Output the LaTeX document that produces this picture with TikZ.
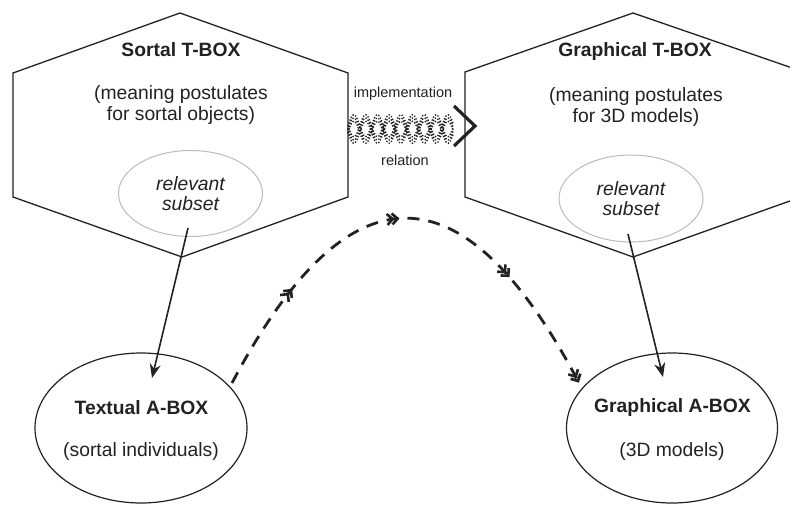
\documentclass[tikz,border=0pt]{standalone}
\usepackage{fontspec}
\setmainfont{Liberation Sans}
\usetikzlibrary{shapes.geometric,arrows.meta,decorations.markings}
\definecolor{ink}{HTML}{222222}
\definecolor{soft}{HTML}{BBBBBB}
\begin{document}
\begin{tikzpicture}[x=1pt,y=-1pt,
  hexline/.style={draw=ink,line width=1.3pt,line join=miter},
  bigtxt/.style={text=ink,align=center,inner sep=0pt,font=\fontsize{19.3}{21}\selectfont},
  smalltxt/.style={text=ink,align=center,inner sep=0pt,font=\fontsize{14.5}{17}\selectfont},
  subell/.style={ellipse,draw=soft,line width=1pt,inner sep=0pt,text=ink,align=center,font=\fontsize{19.3}{20}\selectfont\itshape},
  aboxell/.style={ellipse,draw=ink,line width=1.2pt,inner sep=0pt},
  solidarrow/.style={draw=ink,line width=1.6pt,-{Stealth[length=14pt,width=11pt]}},
  chevmark/.code={\draw[solid,draw=ink,line width=2.6pt,line cap=butt,line join=miter]
      (-10pt,5.5pt) -- (-4.5pt,0pt) -- (-10pt,-5.5pt)
      (-5pt,5.5pt) -- (0.5pt,0pt) -- (-5pt,-5.5pt);},
  dashcurve/.style={draw=ink,line width=2.8pt,dash pattern=on 12pt off 9pt,
    postaction={decorate},
    decoration={markings,
      mark=at position 0.22 with {\tikzset{chevmark}},
      mark=at position 0.485 with {\tikzset{chevmark}},
      mark=at position 0.745 with {\tikzset{chevmark}},
      mark=at position 0.999 with {\tikzset{chevmark}}}},
  wave/.style={draw=ink,line width=1.9pt,line cap=round,dash pattern=on 0pt off 3pt},
  chev/.style={draw=ink,line width=3.2pt,line join=miter}
]
\clip (0,0) rectangle (790,504);
\fill[white] (0,0) rectangle (790,504);

% T-BOX hexagons
\draw[hexline] (180,13) -- (348,73) -- (348,197) -- (182,257) -- (13,197) -- (13,73) -- cycle;
\draw[hexline] (633,13) -- (801,71) -- (801,197) -- (633,257) -- (465,197) -- (465,72) -- cycle;

\node[bigtxt,font=\fontsize{19.3}{21}\selectfont\bfseries] (st1) at (181,50) {Sortal T-BOX};
\node[bigtxt] (st2) at (181,105) {(meaning postulates\\for sortal objects)};
\node[bigtxt,font=\fontsize{19.3}{21}\selectfont\bfseries] (gt1) at (635,52) {Graphical T-BOX};
\node[bigtxt] (gt2) at (636,107) {(meaning postulates\\for 3D models)};

% relevant subsets
\node[subell,minimum width=144pt,minimum height=86pt] (sub1) at (190.5,193.5) {relevant\\subset};
\node[subell,minimum width=144pt,minimum height=87pt] (sub2) at (631,198.5) {relevant\\subset};

% A-BOX ellipses
\node[aboxell,minimum width=212pt,minimum height=150pt] (ta) at (141,428) {};
\node[aboxell,minimum width=211pt,minimum height=150pt] (ga) at (672,428) {};
\node[bigtxt,font=\fontsize{19.3}{21}\selectfont\bfseries] (ta1) at (141.5,408) {Textual A-BOX};
\node[bigtxt] (ta2) at (141,451) {(sortal individuals)};
\node[bigtxt,font=\fontsize{19.3}{21}\selectfont\bfseries] (ga1) at (672.5,408) {Graphical A-BOX};
\node[bigtxt] (ga2) at (672,451) {(3D models)};

% solid arrows
\coordinate (s1) at (188,228);
\coordinate (t1) at (152,378);
\coordinate (s2) at (628,234);
\coordinate (t2) at (663,377);
\draw[solidarrow] (s1) -- (t1);
\draw[solidarrow] (s2) -- (t2);

% dashed curve
\coordinate (d0) at (232,383);
\coordinate (d1) at (578,381);
\draw[dashcurve] (d0) .. controls (347.7,164) and (462.7,163) .. (d1);

% implementation relation
\node[smalltxt] (impl) at (403,94) {implementation};
\node[smalltxt] (rel) at (405,160) {relation};
\foreach \o in {-3.3,0,3.3}{
  \draw[wave] plot[domain=348:453,samples=120] (\x,{129+\o+11*sin((\x-348)/23.5*360)});
  \draw[wave] plot[domain=348:453,samples=120] (\x,{129+\o-11*sin((\x-348)/23.5*360)});
}
\coordinate (c1) at (454,106);
\coordinate (c2) at (475,126);
\coordinate (c3) at (454,146);
\draw[chev] (c1) -- (c2) -- (c3);
\end{tikzpicture}
\end{document}
